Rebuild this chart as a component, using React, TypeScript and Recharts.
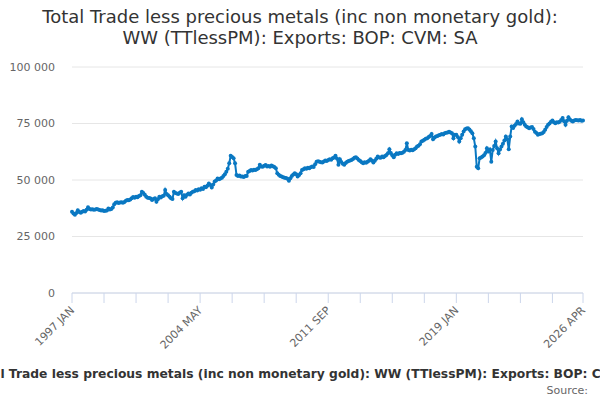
import { LineChart, Line, XAxis, YAxis, CartesianGrid } from 'recharts'

const START_YEAR = 1997
const MONTHS = ['JAN', 'FEB', 'MAR', 'APR', 'MAY', 'JUN', 'JUL', 'AUG', 'SEP', 'OCT', 'NOV', 'DEC']

// monthly exports, £m, Jan 1997 .. Apr 2026
const exportValues = [
  35900, 35200, 34600, 35400, 36600, 35800, 35500, 36000, 36300, 36100, 36800, 37900, // 1997
  37200, 36900, 37100, 36800, 37000, 37200, 36900, 36700, 36500, 36600, 36300, 36400, // 1998
  36500, 37400, 37000, 37200, 37800, 39300, 39900, 40100, 39800, 40000, 40200, 39900, // 1999
  40300, 40800, 41200, 41000, 41400, 41900, 42500, 42200, 42600, 42400, 42900, 43300, // 2000
  44800, 44300, 43500, 42600, 42200, 42000, 41800, 41100, 41600, 41900, 40400, 41500, // 2001
  42600, 42300, 42800, 43000, 45600, 43800, 43300, 42600, 41900, 41600, 44800, 44200, // 2002
  44000, 43800, 44400, 44800, 41900, 43300, 42600, 43500, 44000, 43600, 44400, 44800, // 2003
  45000, 45600, 45300, 45900, 45700, 46300, 46000, 47000, 46800, 47500, 48500, 47800, // 2004
  46700, 48000, 49300, 49800, 50700, 50300, 50700, 51000, 51800, 52500, 53700, 55000, // 2005
  57400, 60700, 60200, 59600, 57400, 52200, 51800, 52000, 51500, 51600, 51300, 51800, // 2006
  51800, 53700, 54000, 54400, 54200, 54500, 54400, 54800, 55200, 56700, 56000, 55900, // 2007
  56300, 56600, 56000, 56200, 55900, 56400, 56100, 55800, 55200, 53000, 52300, 51800, // 2008
  51600, 51200, 51000, 50900, 50600, 49700, 50800, 51800, 52400, 53000, 52500, 51500, // 2009
  52200, 53000, 54400, 54800, 55200, 55000, 55400, 55200, 55600, 56000, 55800, 57000, // 2010
  58100, 58300, 58100, 57900, 57700, 58200, 58600, 58400, 58900, 59200, 59000, 59600, // 2011
  60000, 60700, 59500, 56700, 59200, 58000, 57200, 56700, 57500, 58100, 58400, 58600, // 2012
  58900, 59300, 59800, 60100, 59500, 58900, 58400, 57900, 57400, 57800, 57600, 58100, // 2013
  58500, 59200, 58600, 57700, 58500, 59400, 60400, 60000, 59800, 60400, 60100, 60600, // 2014
  61100, 61800, 63600, 62000, 61000, 60100, 61200, 61800, 61500, 62000, 61800, 62100, // 2015
  62500, 63300, 66300, 63300, 63000, 63400, 63200, 63600, 64000, 64800, 65200, 65800, // 2016
  67000, 67400, 67800, 68200, 68500, 69000, 69500, 70400, 68000, 68800, 69200, 69500, // 2017
  69800, 70000, 70300, 70100, 70700, 70900, 71000, 71400, 71000, 70700, 68500, 70000, // 2018
  70000, 69000, 67000, 68500, 70000, 71500, 72500, 72800, 72900, 72400, 71600, 70700, // 2019
  68500, 64800, 55900, 55200, 59600, 60000, 60400, 61000, 62000, 64000, 62600, 63500, // 2020
  58100, 63300, 65000, 67000, 64000, 61800, 63500, 64800, 66000, 67500, 69200, 68000, // 2021
  63600, 69200, 73700, 73000, 74000, 74800, 75900, 75000, 74900, 76900, 75500, 74500, // 2022
  73700, 73300, 72900, 73200, 73400, 72600, 71400, 70800, 70000, 70300, 70500, 70700, // 2023
  71200, 72200, 73500, 74400, 75000, 75800, 76300, 75600, 75100, 75600, 75400, 75800, // 2024
  76500, 77400, 76000, 74400, 76200, 77800, 76800, 76200, 75900, 76300, 76600, 76400, // 2025
  76300, 76600, 76200, 76300, // 2026
]

const xTicks = [0, 22, 44, 66, 88, 110, 132, 154, 176, 198, 220, 242, 264, 286, 308, 330, 351]
const labelledTicks = [0, 88, 176, 264, 351]
const yTicks = [0, 25000, 50000, 75000, 100000]

const TITLE_1 = 'Total Trade less precious metals (inc non monetary gold):'
const TITLE_2 = 'WW (TTlessPM): Exports: BOP: CVM: SA'
const SERIES_NAME = 'Total Trade less precious metals (inc non monetary gold): WW (TTlessPM): Exports: BOP: CVM: SA'

const LINE_COLOR = '#0a78c2'

const monthLabel = (i: number) => `${START_YEAR + Math.floor(i / 12)} ${MONTHS[i % 12]}`

const data = exportValues.map((value, idx) => ({ idx, value }))

const fmtThousands = (v: number) => String(v).replace(/\B(?=(\d{3})+(?!\d))/g, ' ')

function XTick({ x, y, payload }: any) {
  if (!labelledTicks.includes(payload.value)) return null
  const tx = x + 3
  const ty = y + 6
  return (
    <text
      x={tx}
      y={ty}
      transform={`rotate(-45, ${tx}, ${ty})`}
      textAnchor="end"
      fontSize={11}
      fill="#666666"
    >
      {monthLabel(payload.value)}
    </text>
  )
}

export default function App() {
  return (
    <div
      style={{
        position: 'absolute', left: 0, top: 0, width: 600, height: 400,
        overflow: 'hidden', background: '#fff', fontFamily: '"DejaVu Sans", sans-serif',
      }}
    >
      <div style={{
        position: 'absolute', top: 6, left: 0, width: 600, textAlign: 'center',
        fontSize: 18, lineHeight: '21px', color: '#333333',
      }}>
        <div>{TITLE_1}</div>
        <div>{TITLE_2}</div>
      </div>

      <LineChart
        width={600}
        height={400}
        data={data}
        margin={{ top: 67, right: 17, left: 0, bottom: 0 }}
        style={{ position: 'absolute', left: 0, top: 0 }}
      >
        <CartesianGrid vertical={false} stroke="#e6e6e6" />
        <XAxis
          dataKey="idx"
          type="number"
          domain={[0, 351]}
          ticks={xTicks}
          interval={0}
          height={107}
          stroke="#ccd6eb"
          tickLine={{ stroke: '#ccd6eb' }}
          tickSize={10}
          tick={<XTick />}
        />
        <YAxis
          domain={[0, 100000]}
          ticks={yTicks}
          width={72}
          axisLine={false}
          tickLine={false}
          tickMargin={11}
          tickFormatter={fmtThousands}
          tick={{ fontSize: 11, fill: '#666666' }}
        />
        <Line
          type="linear"
          dataKey="value"
          stroke={LINE_COLOR}
          strokeWidth={2}
          dot={{ r: 2, fill: LINE_COLOR, stroke: LINE_COLOR, strokeWidth: 0 }}
          isAnimationActive={false}
        />
      </LineChart>

      <div style={{
        position: 'absolute', top: 367, left: -29,
        whiteSpace: 'nowrap', fontSize: 12.3, fontWeight: 'bold', color: '#333333',
      }}>
        {SERIES_NAME}
      </div>
      <div style={{
        position: 'absolute', top: 384, right: 12, fontSize: 11, color: '#666666',
      }}>
        Source:
      </div>
    </div>
  )
}
